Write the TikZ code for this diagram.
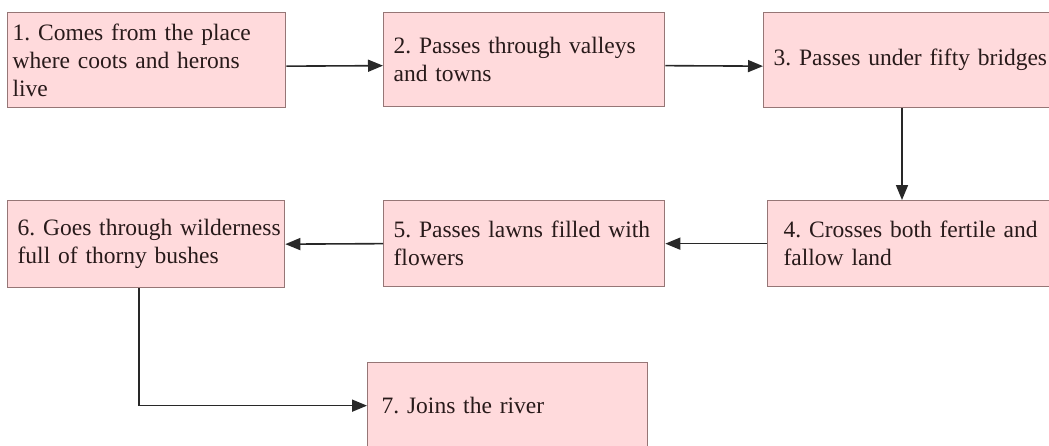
\documentclass[tikz,border=0pt]{standalone}
\usepackage{fontspec}
\setmainfont{Liberation Serif}
\usepackage{tikz}
\usetikzlibrary{arrows.meta,positioning}
\definecolor{boxfill}{RGB}{255,218,220}
\definecolor{boxline}{RGB}{150,118,118}
\definecolor{boxtext}{RGB}{40,26,26}
\definecolor{flowline}{RGB}{40,40,40}
\tikzset{
    box/.style={draw=boxline, fill=boxfill, line width=1.3pt, align=left,
        anchor=north west, inner ysep=0pt, text=boxtext,
        font=\fontsize{23.5}{28}\selectfont,
        execute at begin node={\frenchspacing\hyphenpenalty=10000\exhyphenpenalty=10000
            \rightskip=0pt plus 1fil minus 40pt\relax}},
    flow/.style={-{Triangle[length=15pt,width=12pt]}, draw=flowline, line width=1.6pt}
}

\begin{document}
\begin{tikzpicture}[x=1pt, y=-1pt]
\useasboundingbox (0,0) rectangle (1049,445);

\node[box, inner xsep=5pt, text width=268pt, minimum height=95pt] (comes) at (7,12) {%
    1. Comes from the place\\where coots and herons\\live};
\node[box, inner xsep=10pt, text width=261pt, minimum height=94pt] (valleys) at (383,12) {%
    2. Passes through valleys\\and towns};
\node[box, inner xsep=10pt, text width=290pt, minimum height=95pt] (bridges) at (763,12) {%
    3. Passes under fifty bridges};
\node[box, inner xsep=16pt, text width=266pt, minimum height=86pt] (land) at (767,200) {%
    4. Crosses both fertile and\\fallow land};
\node[box, inner xsep=10pt, text width=261pt, minimum height=86pt] (lawns) at (383,200) {%
    5. Passes lawns filled with\\flowers};
\node[box, inner xsep=10pt, text width=257pt, minimum height=87pt] (wild) at (7,200) {%
    6. Goes through wilderness\\full of thorny bushes};
\node[box, inner xsep=14pt, text width=252pt, minimum height=86pt] (river) at (367,362) {%
    7. Joins the river};

\coordinate (drop) at (902,150);
\coordinate (bend) at (139,320);

\draw[flow] ([yshift=-6pt]comes.east) -- ([yshift=-6pt]valleys.west);
\draw[flow] ([yshift=-6pt]valleys.east) -- ([yshift=-6pt]bridges.west);
\draw[flow] (bridges.south -| drop) -- (land.north -| drop);
\draw[flow] (land.west) -- (lawns.east);
\draw[flow] (lawns.west) -- (wild.east);
\draw[flow] (wild.south -| bend) |- (river.west);
\end{tikzpicture}
\end{document}
